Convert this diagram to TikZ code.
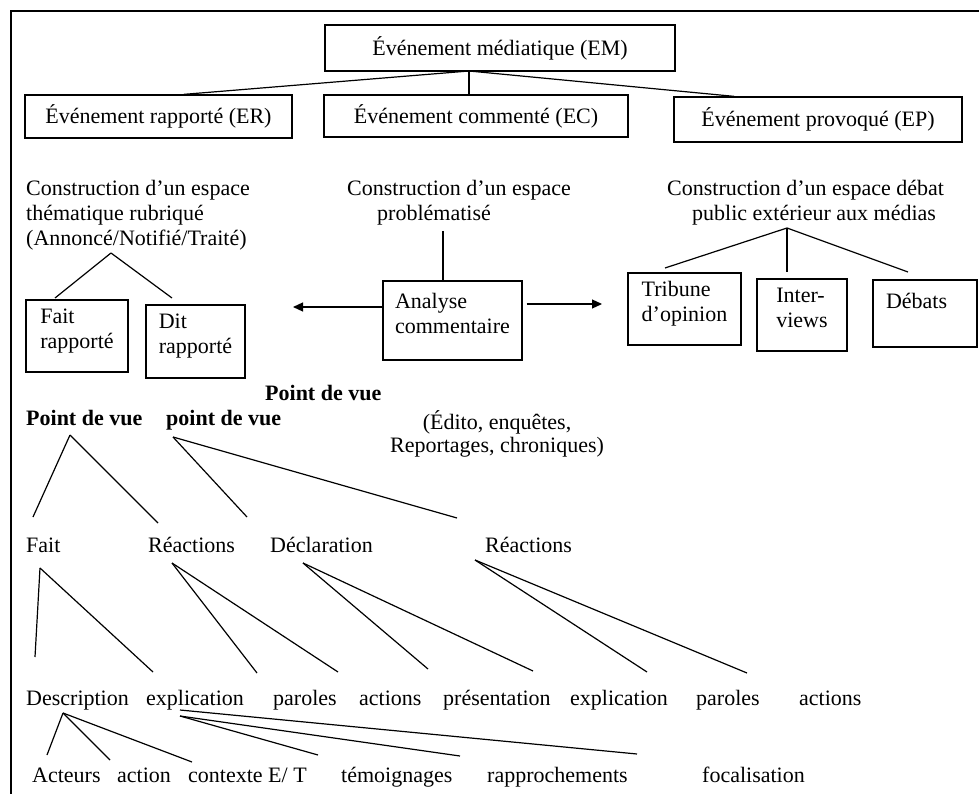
\documentclass[tikz,border=0pt]{standalone}
\usepackage{fontspec}
\setmainfont{Liberation Serif}
\usetikzlibrary{arrows.meta,calc}
% extra room under the last line of a box, so its text sits a little high
\newcommand\boxpad{\\[-10pt]\mbox{}}
\begin{document}
\begin{tikzpicture}[x=1pt,y=-1pt,
  every node/.style={inner sep=0pt, font=\fontsize{22}{25}\selectfont},
  txt/.style={anchor=west, text height=15pt, text depth=4pt},
  boldtxt/.style={txt, font=\fontsize{22}{25}\selectfont\bfseries},
  box/.style={draw, line width=1.3pt, align=left},
  link/.style={line width=1.2pt},
  arr/.style={link, -{Triangle[length=10pt,width=9pt]}},
  frame/.style={line width=2pt}]
\useasboundingbox (0,0) rectangle (979,794);

% outer frame (top and left sides)
\draw[frame] (11,794) -- (11,11) -- (979,11);

% ---- top level: media event and its three kinds
\node[box, align=center, minimum width=350pt, minimum height=46pt] (em) at (500,48) {Événement médiatique (EM)};
\node[box, align=center, minimum width=267pt, minimum height=43pt] (er) at (158.5,116.5) {Événement rapporté (ER)};
\node[box, align=center, minimum width=304pt, minimum height=42pt] (ec) at (476,116) {Événement commenté (EC)};
\node[box, align=center, minimum width=288pt, minimum height=45pt] (ep) at (818,119.5) {Événement provoqué (EP)};

\coordinate (em-foot) at (469,71);
\draw[link] (em-foot) -- (184,0 |- er.north);
\draw[link] (em-foot) -- (em-foot |- ec.north);
\draw[link] (em-foot) -- (734,0 |- ep.north);

% ---- left branch: thematic space
\node[align=left, anchor=west] (rubrique) at (26,215) {Construction d’un espace\\thématique rubriqué\\(Annoncé/Notifié/Traité)};
\node[box, minimum width=102pt, minimum height=72pt] (faitr) at (77,336) {Fait\\rapporté\boxpad};
\node[box, minimum width=99pt, minimum height=73pt] (ditr) at (195.5,341.5) {Dit\\rapporté\boxpad};
\coordinate (rub-foot) at (111,253);
\coordinate (faitr-head) at (55,298);
\coordinate (ditr-head) at (172,298);
\draw[link] (rub-foot) -- (faitr-head);
\draw[link] (rub-foot) -- (ditr-head);

% ---- middle branch: problematised space
\node[align=left, anchor=west] (probl) at (347,202.5) {Construction d’un espace\\\hspace*{30pt}problématisé};
\node[box, minimum width=139pt, minimum height=79pt] (ana) at (452.5,320.5) {Analyse\\commentaire\boxpad};
\coordinate (probl-foot) at (443,231);
\draw[link] (probl-foot) -- (probl-foot |- ana.north);
\coordinate (tip-left) at (293,307);
\coordinate (tip-right) at (602,304);
\draw[arr] (ana.west |- tip-left) -- (tip-left);
\draw[arr] ([xshift=4pt]ana.east |- tip-right) -- (tip-right);

% ---- right branch: public debate space
\node[align=left, anchor=west] (debat) at (667,202.5) {Construction d’un espace débat\\\hspace*{25pt}public extérieur aux médias};
\node[box, minimum width=113pt, minimum height=72pt] (trib) at (684.5,309) {Tribune\\d’opinion\boxpad};
\node[box, minimum width=90pt, minimum height=72pt] (inter) at (802,315) {Inter-\\views\boxpad};
\node[box, text width=78pt, minimum width=104pt, minimum height=67pt] (debats) at (925,313.5) {Débats\\\mbox{}};
\coordinate (debat-foot) at (787,228);
\coordinate (trib-head) at (665,268);
\coordinate (inter-head) at (787,272);
\coordinate (debats-head) at (908,272);
\draw[link] (debat-foot) -- (trib-head);
\draw[link] (debat-foot) -- (inter-head);
\draw[link] (debat-foot) -- (debats-head);

% ---- points of view
\node[boldtxt] (pdvc) at (265,395) {Point de vue};
\node[boldtxt] (pdva) at (26,420) {Point de vue};
\node[boldtxt] (pdvb) at (166,420) {point de vue};
\node[align=center, font=\fontsize{22}{23}\selectfont] (edito) at (497,433.5) {(Édito, enquêtes,\\Reportages, chroniques)};

% second row
\node[txt] (fait) at (26,547) {Fait};
\node[txt] (reac1) at (148,547) {Réactions};
\node[txt] (decl) at (270,547) {Déclaration};
\node[txt] (reac2) at (485,547) {Réactions};

% third row
\node[txt] (desc) at (26,700) {Description};
\node[txt] (expl1) at (146,700) {explication};
\node[txt] (par1) at (273,700) {paroles};
\node[txt] (act1) at (359,700) {actions};
\node[txt] (pres) at (443,700) {présentation};
\node[txt] (expl2) at (570,700) {explication};
\node[txt] (par2) at (696,700) {paroles};
\node[txt] (act2) at (799,700) {actions};

% fourth row
\node[txt] (acteurs) at (32,777) {Acteurs};
\node[txt] (action) at (117,777) {action};
\node[txt] (ctx) at (188,777) {contexte E/ T};
\node[txt] (temo) at (341,777) {témoignages};
\node[txt] (rappr) at (487,777) {rapprochements};
\node[txt] (foca) at (702,777) {focalisation};

% tree links: point of view -> second row
\coordinate (pdva-foot) at (70,435);
\coordinate (pdvb-foot) at (173,437);
\coordinate (fait-head) at (33,517);
\coordinate (reac1-head) at (158,523);
\coordinate (decl-head) at (247,517);
\coordinate (reac2-head) at (457,518);
\draw[link] (pdva-foot) -- (fait-head);
\draw[link] (pdva-foot) -- (reac1-head);
\draw[link] (pdvb-foot) -- (decl-head);
\draw[link] (pdvb-foot) -- (reac2-head);

% second row -> third row
\coordinate (fait-foot) at (40,568);
\coordinate (reac1-foot) at (172,563);
\coordinate (decl-foot) at (303,563);
\coordinate (reac2-foot) at (475,560);
\coordinate (desc-head) at (35,657);
\coordinate (expl1-head) at (153,672);
\coordinate (par1-head) at (257,673);
\coordinate (act1-head) at (338,672);
\coordinate (pres-head) at (428,669);
\coordinate (expl2-head) at (533,671);
\coordinate (par2-head) at (647,672);
\coordinate (act2-head) at (747,673);
\draw[link] (fait-foot) -- (desc-head);
\draw[link] (fait-foot) -- (expl1-head);
\draw[link] (reac1-foot) -- (par1-head);
\draw[link] (reac1-foot) -- (act1-head);
\draw[link] (decl-foot) -- (pres-head);
\draw[link] (decl-foot) -- (expl2-head);
\draw[link] (reac2-foot) -- (par2-head);
\draw[link] (reac2-foot) -- (act2-head);

% third row -> fourth row
\coordinate (desc-foot) at (63,713);
\coordinate (expl1-foot) at (180,710);
\coordinate (acteurs-head) at (47,755);
\coordinate (action-head) at (110,760);
\coordinate (ctx-head) at (192,762);
\coordinate (temo-head) at (318,755);
\coordinate (rappr-head) at (460,756);
\coordinate (foca-head) at (637,754);
\draw[link] (desc-foot) -- (acteurs-head);
\draw[link] (desc-foot) -- (action-head);
\draw[link] (desc-foot) -- (ctx-head);
\draw[link] ([yshift=-6pt]expl1-foot) -- (temo-head);
\draw[link] ([yshift=-6pt]expl1-foot) -- (rappr-head);
\draw[link] (expl1-foot) -- (foca-head);
\end{tikzpicture}
\end{document}
